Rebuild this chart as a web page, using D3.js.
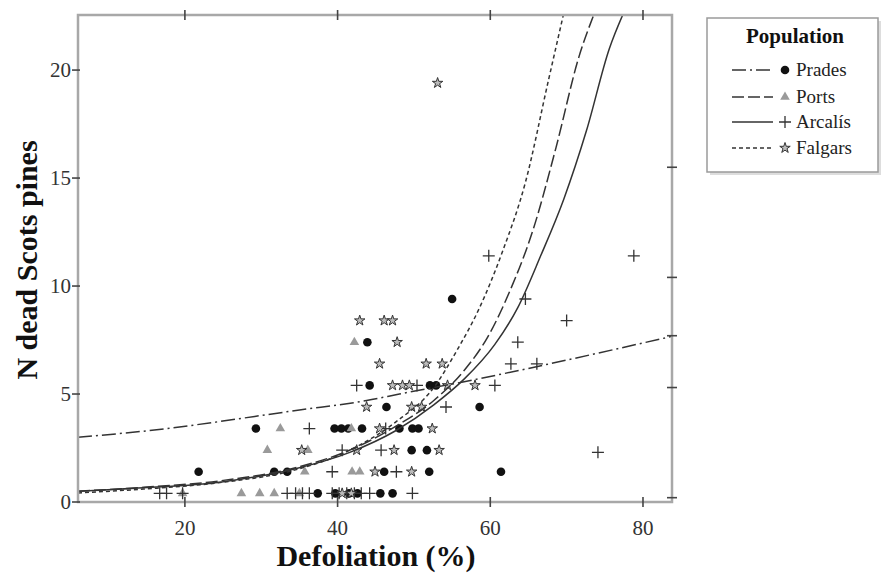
<!DOCTYPE html>
<html><head><meta charset="utf-8">
<script src="https://cdn.jsdelivr.net/npm/d3@7"></script>
<style>
body{margin:0;background:#fff;}
svg{display:block;}
text{font-family:"Liberation Serif","DejaVu Serif",serif;}
</style>
</head><body>
<svg id="c" width="882" height="580"></svg>
<script>
// ---------- data ----------
const xTicks = [20, 40, 60, 80];
const yTicks = [0, 5, 10, 15, 20];
const rightTicks = [0.2, 5.3, 7.7, 10.4, 15.5];
const populations = ["Prades", "Ports", "Arcalís", "Falgars"];

// observed points (x = defoliation %, y = N dead Scots pines)
const pradesX = [37.4,39.7,41.5,42.6,45.6,47.2, 21.8,31.7,33.4,46.1,52.0,61.4, 49.7,51.7,
                 29.3,39.6,40.5,41.4,43.2,48.1,49.8,50.6, 46.4,58.6, 44.2,52.1,52.9, 43.9, 55.0];
const pradesY = [0.4,0.4,0.4,0.4,0.4,0.4, 1.4,1.4,1.4,1.4,1.4,1.4, 2.4,2.4,
                 3.4,3.4,3.4,3.4,3.4,3.4,3.4,3.4, 4.4,4.4, 5.4,5.4,5.4, 7.4, 9.4];

const portsX = [19.7,27.4,29.8,31.7,35.0, 35.7,41.9,42.9, 30.8,36.1, 32.5,41.8, 42.2];
const portsY = [0.4,0.4,0.4,0.4,0.4, 1.4,1.4,1.4, 2.4,2.4, 3.4,3.4, 7.4];

const arcalisX = [16.7,17.6,19.7,33.4,34.5,35.4,36.3,39.3,40.2,41.2,42.2,43.1,44.2,49.8,
                  39.3,47.7, 40.6,45.7,74.1, 36.3,46.3, 54.2, 42.5,50.4,60.6, 62.7,66.1,
                  63.6, 70.0, 64.6, 59.8,78.8];
const arcalisY = [0.4,0.4,0.4,0.4,0.4,0.4,0.4,0.4,0.4,0.4,0.4,0.4,0.4,0.4,
                  1.4,1.4, 2.4,2.4,2.3, 3.4,3.4, 4.4, 5.4,5.4,5.4, 6.4,6.4,
                  7.4, 8.4, 9.4, 11.4,11.4];

const falgarsX = [40.6,41.8, 44.9,49.7, 35.3,42.5,47.4,53.3, 45.5,52.4, 43.8,49.7,51.0,
                  47.2,48.5,49.4,54.4,58.0, 45.5,51.6,53.7, 47.8, 42.9,46.1,47.2, 53.1];
const falgarsY = [0.4,0.4, 1.4,1.4, 2.4,2.4,2.4,2.4, 3.4,3.4, 4.4,4.4,4.4,
                  5.4,5.4,5.4,5.4,5.4, 6.4,6.4,6.4, 7.4, 8.4,8.4,8.4, 19.4];

// fitted curves
const pradesCurveX = [6, 14.1, 35, 43.8, 48.1, 57.7, 67.8, 76.7, 83.8];
const pradesCurveY = [3.0, 3.26, 4.26, 4.7, 5.0, 5.65, 6.4, 7.1, 7.67];
const portsCurveX = [6,14.6,24.6,34.6,41.6,47.6,52.6,56.6,59.6,62.6,65.6,68.6,71.6,73.6];
const portsCurveY = [0.5,0.68,0.98,1.6,2.4,3.5,4.7,6.1,7.6,9.8,12.6,16.4,20.6,22.6];
const arcalisCurveX = [6,14.6,24.6,34.6,41.6,47.6,52.6,56.6,60.6,63.6,66.6,69.6,72.6,75.6,77.4];
const arcalisCurveY = [0.5,0.66,0.92,1.55,2.3,3.3,4.5,5.7,7.3,9.0,11.4,14.0,17.2,21.0,22.6];
const falgarsCurveX = [6,14.6,24.6,34.6,41.6,47.6,52.6,55.6,58.6,61.6,64.6,67.6,69.6];
const falgarsCurveY = [0.42,0.6,0.9,1.5,2.4,3.7,5.3,7.0,9.0,11.6,14.8,19.5,22.6];

// ---------- chart ----------
const FONT = "Liberation Serif, DejaVu Serif, serif";
const svg = d3.select("#c");
const x = d3.scaleLinear().domain([6, 83.8]).range([78, 672]);
const y = d3.scaleLinear().domain([0, 22.55]).range([502, 15]);
const zip = (a, b) => a.map((v, i) => [v, b[i]]);

const dashes = ["14,4,2,4", "12,4", null, "4,3"];
const markerKinds = ["circle", "triangle", "plus", "star"];
const points = [zip(pradesX, pradesY), zip(portsX, portsY), zip(arcalisX, arcalisY), zip(falgarsX, falgarsY)];
const curves = [zip(pradesCurveX, pradesCurveY), zip(portsCurveX, portsCurveY),
                zip(arcalisCurveX, arcalisCurveY), zip(falgarsCurveX, falgarsCurveY)];

svg.append("clipPath").attr("id", "clip").append("rect")
  .attr("x", 78).attr("y", 15).attr("width", 594).attr("height", 487);

function drawMarker(g, kind, cx, cy) {
  if (kind === "circle") {
    g.append("circle").attr("cx", cx).attr("cy", cy).attr("r", 4.3).attr("fill", "#111");
  } else if (kind === "triangle") {
    g.append("path").attr("d", d3.symbol(d3.symbolTriangle, 40)())
      .attr("transform", `translate(${cx},${cy})`).attr("fill", "#9a9a9a");
  } else if (kind === "plus") {
    g.append("path").attr("d", `M${cx-6},${cy}H${cx+6}M${cx},${cy-6}V${cy+6}`)
      .attr("stroke", "#333").attr("stroke-width", 1.3).attr("fill", "none");
  } else {
    g.append("path").attr("d", d3.symbol(d3.symbolStar, 34)())
      .attr("transform", `translate(${cx},${cy})`)
      .attr("fill", "#bbb").attr("stroke", "#333").attr("stroke-width", 1);
  }
}

// points
const pg = svg.append("g");
points.forEach((pts, i) => pts.forEach(p => drawMarker(pg, markerKinds[i], x(p[0]), y(p[1]))));

// curves
const line = d3.line().x(d => x(d[0])).y(d => y(d[1])).curve(d3.curveMonotoneX);
const cg = svg.append("g").attr("clip-path", "url(#clip)");
curves.forEach((c, i) => {
  cg.append("path").attr("d", line(c)).attr("fill", "none")
    .attr("stroke", "#333").attr("stroke-width", 1.5)
    .attr("stroke-dasharray", dashes[i]);
});

// frame
svg.append("rect").attr("x", 78).attr("y", 15).attr("width", 594).attr("height", 487)
  .attr("fill", "none").attr("stroke", "#a8a8a8").attr("stroke-width", 2.5);

const tickCol = "#444";
xTicks.forEach(t => {
  [502, 15].forEach(yy => svg.append("line").attr("x1", x(t)).attr("x2", x(t))
    .attr("y1", yy - 5).attr("y2", yy + 5).attr("stroke", tickCol).attr("stroke-width", 1.6));
  svg.append("text").attr("x", x(t)).attr("y", 535).attr("text-anchor", "middle")
    .attr("font-family", FONT).attr("font-size", 21).attr("fill", "#333").text(t);
});
yTicks.forEach(t => {
  svg.append("line").attr("x1", 72).attr("x2", 80).attr("y1", y(t)).attr("y2", y(t))
    .attr("stroke", tickCol).attr("stroke-width", 1.6);
  svg.append("text").attr("x", 71).attr("y", y(t) + 7).attr("text-anchor", "end")
    .attr("font-family", FONT).attr("font-size", 21).attr("fill", "#333").text(t);
});
rightTicks.forEach(t => {
  svg.append("line").attr("x1", 667).attr("x2", 677).attr("y1", y(t)).attr("y2", y(t))
    .attr("stroke", tickCol).attr("stroke-width", 1.6);
});

// axis titles
svg.append("text").attr("x", 376).attr("y", 566).attr("text-anchor", "middle")
  .attr("font-family", FONT).attr("font-size", 30).attr("font-weight", "bold")
  .attr("fill", "#111").text("Defoliation (%)");
svg.append("text").attr("transform", "translate(37,260) rotate(-90)").attr("text-anchor", "middle")
  .attr("font-family", FONT).attr("font-size", 30).attr("font-weight", "bold")
  .attr("fill", "#111").text("N dead Scots pines");

// legend
const lg = svg.append("g");
lg.append("rect").attr("x", 710).attr("y", 21).attr("width", 171).attr("height", 154).attr("fill", "#ddd");
lg.append("rect").attr("x", 707).attr("y", 18).attr("width", 171).attr("height", 154)
  .attr("fill", "#fff").attr("stroke", "#9a9a9a").attr("stroke-width", 1.5);
lg.append("text").attr("x", 795).attr("y", 43).attr("text-anchor", "middle")
  .attr("font-family", FONT).attr("font-size", 21).attr("font-weight", "bold")
  .attr("fill", "#111").text("Population");
const legY = [70, 97, 122, 148];
populations.forEach((name, i) => {
  lg.append("line").attr("x1", 732).attr("x2", 773).attr("y1", legY[i]).attr("y2", legY[i])
    .attr("stroke", "#333").attr("stroke-width", 1.5).attr("stroke-dasharray", dashes[i]);
  drawMarker(lg, markerKinds[i], 785, legY[i]);
  lg.append("text").attr("x", 796).attr("y", legY[i] + 6)
    .attr("font-family", FONT).attr("font-size", 19)
    .attr("fill", "#222").text(name);
});
</script>
</body></html>
